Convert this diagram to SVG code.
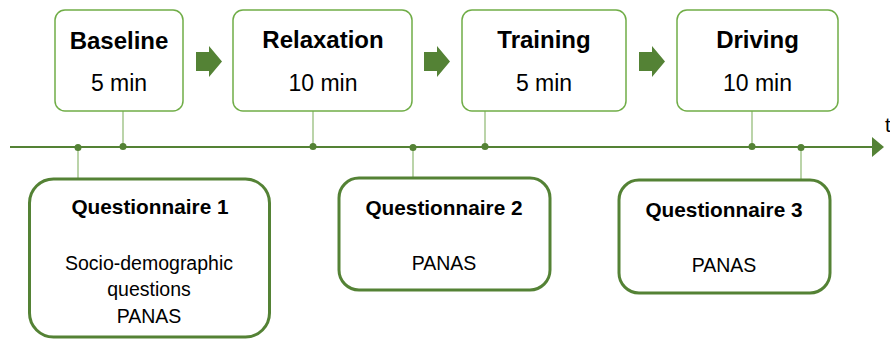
<svg xmlns="http://www.w3.org/2000/svg" width="890" height="339" viewBox="0 0 890 339">
<style>
text{font-family:"Liberation Sans",Arial,sans-serif;fill:#000;text-anchor:middle}
.ph{fill:#fff;stroke:#70AD47;stroke-width:1.5}
.q{fill:#fff;stroke:#548235;stroke-width:3}
.t{font-weight:bold;font-size:24px}
.d{font-size:23px}
.qt{font-weight:bold;font-size:20.8px}
.qb{font-size:19.5px}
.blk{fill:#548235}
.tick{stroke:#8DB870;stroke-width:1.2}
.dot{fill:#548235}
</style>
<g id="connectors">
<line x1="10" y1="147" x2="873" y2="147" stroke="#548235" stroke-width="1.8"/>
<polygon class="blk" points="872,137 884,147 872,157"/>
<line class="tick" x1="123" y1="111" x2="123" y2="147"/>
<line class="tick" x1="313" y1="111" x2="313" y2="147"/>
<line class="tick" x1="485" y1="111" x2="485" y2="147"/>
<line class="tick" x1="752" y1="111" x2="752" y2="147"/>
<line class="tick" x1="78" y1="147" x2="78" y2="179"/>
<line class="tick" x1="413" y1="147" x2="413" y2="178"/>
<line class="tick" x1="801" y1="147" x2="801" y2="180"/>
<circle class="dot" cx="78" cy="147.5" r="3.5"/>
<circle class="dot" cx="123" cy="146.5" r="3.5"/>
<circle class="dot" cx="313" cy="146.5" r="3.5"/>
<circle class="dot" cx="413" cy="147.5" r="3.5"/>
<circle class="dot" cx="485" cy="146.5" r="3.5"/>
<circle class="dot" cx="752" cy="146.5" r="3.5"/>
<circle class="dot" cx="801" cy="147.5" r="3.5"/>
<polygon class="blk" points="196,52 209,52 209,46 222,61.5 209,77 209,71 196,71"/>
<polygon class="blk" points="424,52 437,52 437,46 450,61.5 437,77 437,71 424,71"/>
<polygon class="blk" points="639,52 652,52 652,46 665,61.5 652,77 652,71 639,71"/>
<text x="885" y="132" style="font-size:20px;text-anchor:start">t</text>
</g>
<g id="baseline">
<rect class="ph" x="55" y="10" width="128" height="101" rx="10"/>
<text class="t" x="119" y="49">Baseline</text>
<text class="d" x="119" y="91">5 min</text>
</g>
<g id="relaxation">
<rect class="ph" x="233" y="10" width="179" height="101" rx="10"/>
<text class="t" x="323" y="48">Relaxation</text>
<text class="d" x="323" y="91">10 min</text>
</g>
<g id="training">
<rect class="ph" x="462" y="10" width="164" height="101" rx="10"/>
<text class="t" x="544" y="48">Training</text>
<text class="d" x="544" y="91">5 min</text>
</g>
<g id="driving">
<rect class="ph" x="677" y="10" width="161" height="101" rx="10"/>
<text class="t" x="757.5" y="48">Driving</text>
<text class="d" x="757.5" y="91">10 min</text>
</g>
<g id="q1">
<rect class="q" x="29.5" y="179" width="240" height="158" rx="24"/>
<text class="qt" x="150" y="214">Questionnaire 1</text>
<text class="qb" x="149" y="270">Socio-demographic</text>
<text class="qb" x="149" y="296">questions</text>
<text class="qb" x="149" y="323">PANAS</text>
</g>
<g id="q2">
<rect class="q" x="339" y="178" width="211" height="112" rx="20"/>
<text class="qt" x="444" y="215">Questionnaire 2</text>
<text class="qb" x="444" y="270">PANAS</text>
</g>
<g id="q3">
<rect class="q" x="619" y="180" width="211" height="113" rx="20"/>
<text class="qt" x="724" y="217">Questionnaire 3</text>
<text class="qb" x="724" y="272">PANAS</text>
</g>
</svg>
